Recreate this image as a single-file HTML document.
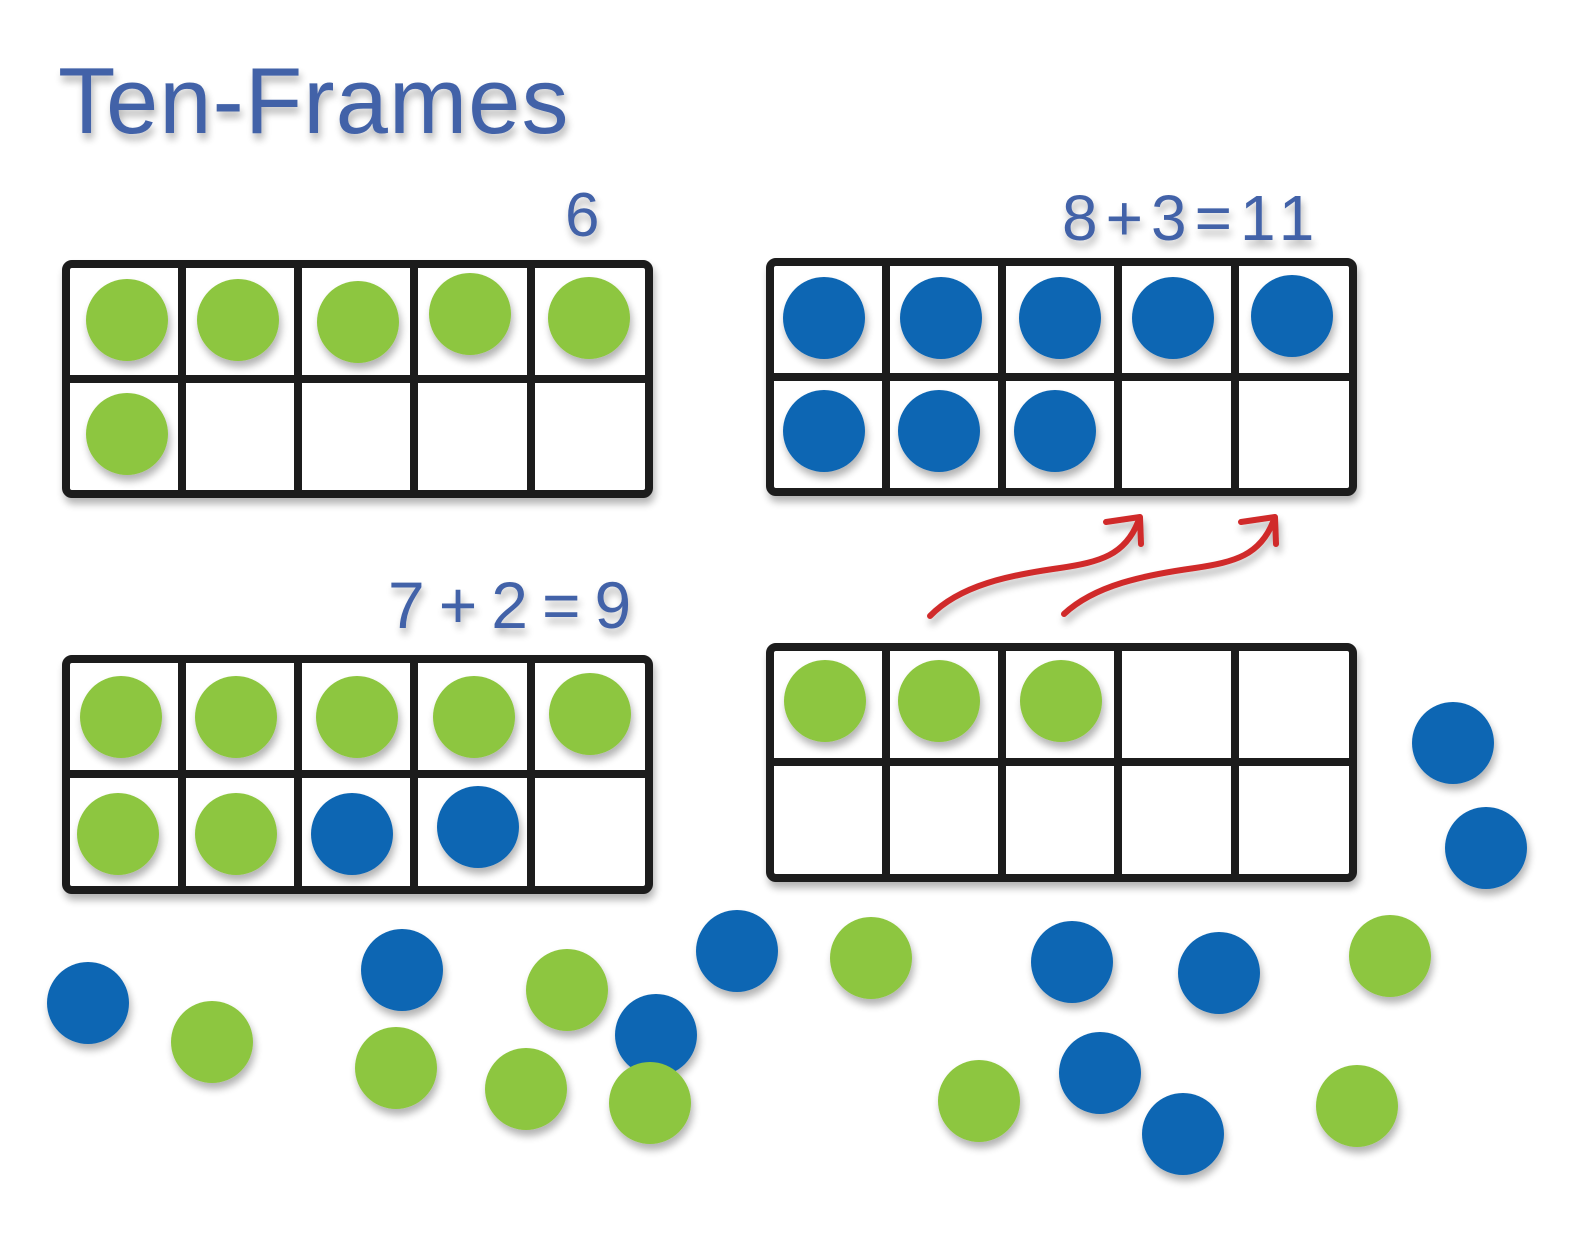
<!DOCTYPE html>
<html><head><meta charset="utf-8"><style>
html,body{margin:0;padding:0;background:#fff;}
svg{display:block;}
</style></head><body>
<svg width="1580" height="1256" viewBox="0 0 1580 1256" xmlns="http://www.w3.org/2000/svg">
<defs>
<filter id="sh" x="-20%" y="-20%" width="140%" height="140%">
<feGaussianBlur in="SourceAlpha" stdDeviation="4"/>
<feOffset dx="2" dy="6" result="b"/>
<feComponentTransfer><feFuncA type="linear" slope="0.3"/></feComponentTransfer>
<feMerge><feMergeNode/><feMergeNode in="SourceGraphic"/></feMerge>
</filter>
</defs>
<g font-family="Liberation Sans, sans-serif" fill="#4262a8" filter="url(#sh)">
<text x="58" y="133" font-size="94" letter-spacing="1">Ten-Frames</text>
<text x="565" y="236" font-size="62">6</text>
<text x="1062" y="240" font-size="64" letter-spacing="8">8+3=11</text>
<text x="388" y="628" font-size="66" letter-spacing="14">7+2=9</text>
</g>
<g fill="#fff" stroke="#1a1a1a" stroke-width="8" filter="url(#sh)">
<g>
<rect x="66" y="264" width="583" height="230" rx="6"/>
<path d="M182 264V494M298 264V494M414 264V494M531 264V494M66 379H649"/>
</g>
<g>
<rect x="770" y="262" width="583" height="230" rx="6"/>
<path d="M886 262V492M1002 262V492M1118 262V492M1235 262V492M770 377H1353"/>
</g>
<g>
<rect x="66" y="659" width="583" height="231" rx="6"/>
<path d="M182 659V890M298 659V890M414 659V890M531 659V890M66 774H649"/>
</g>
<g>
<rect x="770" y="647" width="583" height="231" rx="6"/>
<path d="M886 647V878M1002 647V878M1118 647V878M1235 647V878M770 762H1353"/>
</g>
</g>
<g filter="url(#sh)">
<g fill="#8dc63f">
<circle cx="127" cy="320" r="41"/><circle cx="238" cy="320" r="41"/><circle cx="358" cy="322" r="41"/><circle cx="470" cy="314" r="41"/><circle cx="589" cy="318" r="41"/><circle cx="127" cy="434" r="41"/>
<circle cx="121" cy="717" r="41"/><circle cx="236" cy="717" r="41"/><circle cx="357" cy="717" r="41"/><circle cx="474" cy="717" r="41"/><circle cx="590" cy="714" r="41"/><circle cx="118" cy="834" r="41"/><circle cx="236" cy="834" r="41"/>
<circle cx="825" cy="701" r="41"/><circle cx="939" cy="701" r="41"/><circle cx="1061" cy="701" r="41"/>
<circle cx="212" cy="1042" r="41"/><circle cx="567" cy="990" r="41"/><circle cx="396" cy="1068" r="41"/><circle cx="526" cy="1089" r="41"/><circle cx="871" cy="958" r="41"/><circle cx="979" cy="1101" r="41"/><circle cx="1390" cy="956" r="41"/><circle cx="1357" cy="1106" r="41"/>
</g>
<g fill="#0f66b3">
<circle cx="824" cy="318" r="41"/><circle cx="941" cy="318" r="41"/><circle cx="1060" cy="318" r="41"/><circle cx="1173" cy="318" r="41"/><circle cx="1292" cy="316" r="41"/>
<circle cx="824" cy="431" r="41"/><circle cx="939" cy="431" r="41"/><circle cx="1055" cy="431" r="41"/>
<circle cx="352" cy="834" r="41"/><circle cx="478" cy="827" r="41"/>
<circle cx="88" cy="1003" r="41"/><circle cx="402" cy="970" r="41"/><circle cx="737" cy="951" r="41"/><circle cx="656" cy="1035" r="41"/><circle cx="1072" cy="962" r="41"/><circle cx="1219" cy="973" r="41"/><circle cx="1100" cy="1073" r="41"/><circle cx="1183" cy="1134" r="41"/><circle cx="1453" cy="743" r="41"/><circle cx="1486" cy="848" r="41"/>
</g>
<circle cx="650" cy="1103" r="41" fill="#8dc63f"/>
</g>
<g fill="none" stroke="#d02a2a" stroke-width="6" stroke-linecap="round" stroke-linejoin="round" filter="url(#sh)">
<path d="M930 616C960 585 1010 575 1060 568C1100 562 1125 555 1138 522"/>
<path d="M1106 522L1140 517L1141 544"/>
<path d="M1064 614C1095 585 1145 575 1195 568C1235 562 1260 555 1273 522"/>
<path d="M1241 522L1275 517L1276 544"/>
</g>
</svg>
</body></html>
